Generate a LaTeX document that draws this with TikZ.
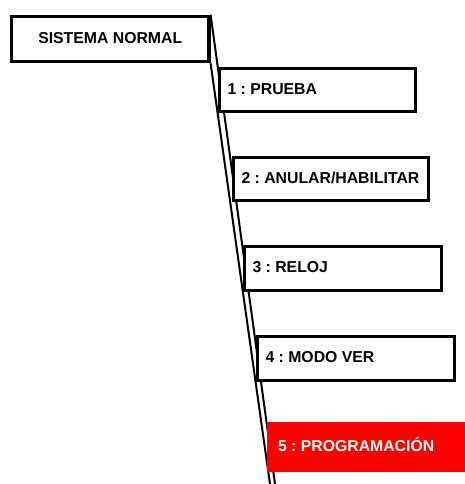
\documentclass[tikz,border=0pt]{standalone}
\usepackage{fontspec}
\setmainfont{Liberation Sans}
\usetikzlibrary{backgrounds}
\definecolor{menured}{RGB}{255,0,0}
\frenchspacing
\newcommand{\menutext}[2]{\makebox[#1][l]{#2}}
\tikzset{
  menubox/.style={draw=black, line width=3.2pt, fill=white, rectangle,
    inner ysep=0pt, inner xsep=8pt, text height=11.3pt, text depth=2.5pt,
    font=\fontsize{15.8}{18}\selectfont\bfseries},
  redbox/.style={fill=menured, text=white, rectangle,
    inner ysep=0pt, inner xsep=11pt, text height=11.3pt, text depth=2.5pt,
    font=\fontsize{15.8}{18}\selectfont\bfseries},
  wire/.style={draw=black, line width=2pt}
}
\begin{document}
\begin{tikzpicture}[x=1pt,y=-1pt]
\useasboundingbox (0,0) rectangle (465,484);
\node[menubox, minimum width=197.5pt, minimum height=45.4pt] (root) at (110.25,39) {SISTEMA NORMAL};
\node[menubox, minimum height=43pt] (m1) at (317.5,90) {\menutext{180pt}{1 : PRUEBA}};
\node[menubox, minimum height=43pt] (m2) at (331,179) {\menutext{179pt}{2 : ANULAR/HABILITAR}};
\node[menubox, minimum height=44pt] (m3) at (343,268.5) {\menutext{181pt}{3 : RELOJ}};
\node[menubox, minimum height=44pt] (m4) at (356,358.5) {\menutext{181pt}{4 : MODO VER}};
\node[redbox, minimum height=50pt] (m5) at (366,447) {\menutext{176pt}{5 : PROGRAMACIÓN}};
\coordinate (endA) at (275,484);
\coordinate (endB) at (270,484);
\begin{scope}[on background layer]
\draw[wire] (root.north east) -- (endA);
\draw[wire] (root.south east) -- (endB);
\end{scope}
\end{tikzpicture}
\end{document}
